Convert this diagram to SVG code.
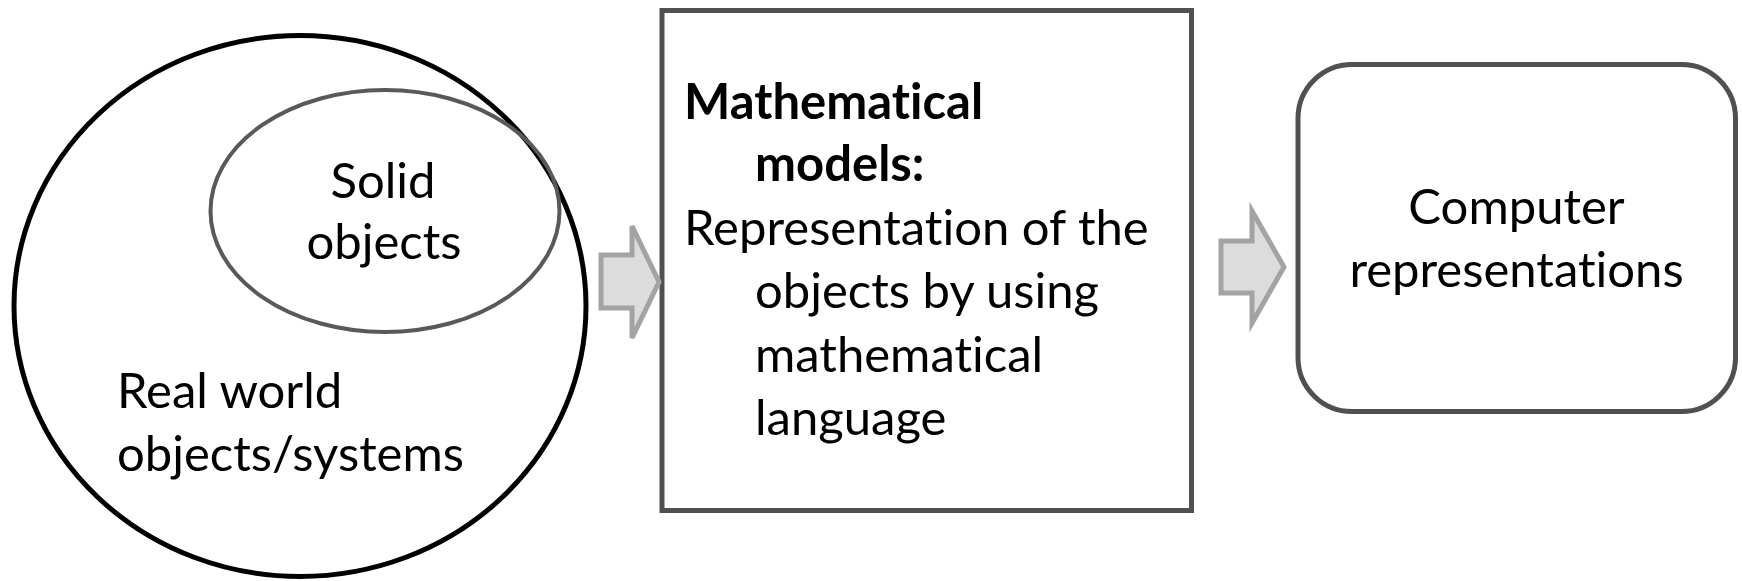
<svg xmlns="http://www.w3.org/2000/svg" width="1742" height="581" viewBox="0 0 1742 581">
<style>
.t{font-family:Lato,"Open Sans",sans-serif;font-size:49px;fill:#000;font-variant-ligatures:none}
.b{font-weight:bold}
.c{text-anchor:middle}
.arrow{fill:#dcdcdc;stroke:#a3a3a3;stroke-width:5;stroke-linejoin:miter}
</style>
<rect width="1742" height="581" fill="#fff"/>
<g id="real-world">
<ellipse cx="300" cy="306" rx="286" ry="270.5" fill="none" stroke="#000" stroke-width="5"/>
<text class="t" x="117" y="408">Real world</text>
<text class="t" x="117" y="471">objects/systems</text>
</g>
<g id="solid-objects">
<ellipse cx="385" cy="211" rx="174.5" ry="121" fill="none" stroke="#595959" stroke-width="4"/>
<text class="t c" x="383" y="197.5">Solid</text>
<text class="t c" x="384" y="259">objects</text>
</g>
<g id="math-models">
<rect x="662" y="10.5" width="529.5" height="500" fill="none" stroke="#505050" stroke-width="5"/>
<text class="t b" x="684" y="118.5">Mathematical</text>
<text class="t b" x="755" y="181">models:</text>
<text class="t" x="684" y="245">Representation of the</text>
<text class="t" x="755" y="307.5">objects by using</text>
<text class="t" x="755" y="372">mathematical</text>
<text class="t" x="755" y="435">language</text>
</g>
<g id="computer-rep">
<rect x="1298" y="64.5" width="437.5" height="347" rx="54" ry="54" fill="none" stroke="#505050" stroke-width="5"/>
<text class="t c" x="1516.5" y="224">Computer</text>
<text class="t c" x="1516.5" y="287">representations</text>
</g>
<g id="connectors">
<polygon class="arrow" points="601,255 632,255 632,226 659,282 632,338 632,308 601,308"/>
<polygon class="arrow" points="1221,241 1252,241 1252,211 1284,267 1252,323 1252,293 1221,293"/>
</g>
</svg>
